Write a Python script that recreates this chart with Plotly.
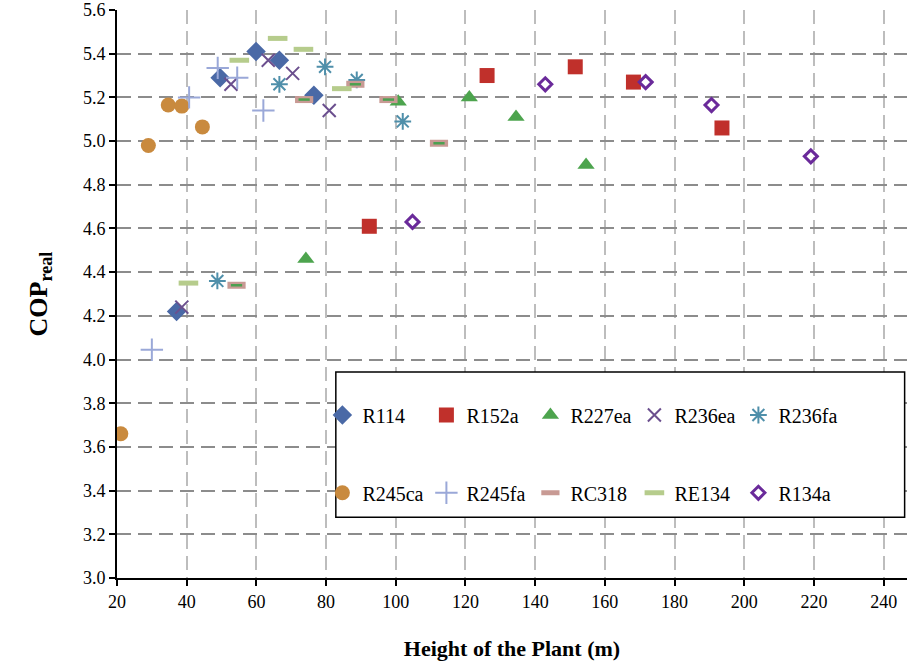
import plotly.graph_objects as go

# ---- data ----
names = ["R114", "R152a", "R227ea", "R236ea", "R236fa",
         "R245ca", "R245fa", "RC318", "RE134", "R134a"]

r114_x = [37.1, 49.6, 59.9, 66.6, 76.5]
r114_y = [4.22, 5.29, 5.41, 5.37, 5.21]
r152a_x = [92.4, 126.2, 151.5, 168.2, 193.6]
r152a_y = [4.61, 5.30, 5.34, 5.27, 5.06]
r227ea_x = [74.2, 100.7, 121.1, 134.5, 154.6]
r227ea_y = [4.46, 5.18, 5.20, 5.11, 4.89]
r236ea_x = [38.6, 52.7, 63.4, 70.4, 80.9]
r236ea_y = [4.24, 5.26, 5.37, 5.31, 5.14]
r236fa_x = [48.8, 66.6, 79.7, 88.8, 102.0]
r236fa_y = [4.36, 5.26, 5.34, 5.28, 5.09]
r245ca_x = [21.1, 29.0, 34.7, 38.6, 44.5]
r245ca_y = [3.66, 4.98, 5.165, 5.16, 5.065]
r245fa_x = [30.0, 40.7, 48.9, 54.5, 62.0]
r245fa_y = [4.045, 5.20, 5.335, 5.29, 5.14]
rc318_x = [54.3, 73.7, 88.4, 97.9, 112.4]
rc318_y = [4.34, 5.19, 5.26, 5.19, 4.99]
re134_x = [40.5, 55.1, 66.1, 73.5, 84.5]
re134_y = [4.35, 5.37, 5.47, 5.42, 5.24]
r134a_x = [104.8, 142.9, 171.7, 190.6, 219.1]
r134a_y = [4.63, 5.26, 5.27, 5.165, 4.93]

x_ticks = [20, 40, 60, 80, 100, 120, 140, 160, 180, 200, 220, 240]
y_ticks = [3.0, 3.2, 3.4, 3.6, 3.8, 4.0, 4.2, 4.4, 4.6, 4.8, 5.0, 5.2, 5.4, 5.6]

FONT = "Liberation Serif"

fig = go.Figure()

def add(name, xs, ys, marker, legend, showlegend=True, group=None):
    fig.add_trace(go.Scatter(
        x=xs, y=ys, mode="markers", name=name, marker=marker,
        legend=legend, showlegend=showlegend,
        legendgroup=group or name, hoverinfo="x+y+name"))

add("R114", r114_x, r114_y,
    dict(symbol="diamond", size=15, color="#4A69A6"), "legend")
add("R152a", r152a_x, r152a_y,
    dict(symbol="square", size=15, color="#C0302B"), "legend")
add("R227ea", r227ea_x, r227ea_y,
    dict(symbol="triangle-up", size=15, color="#4DA44E"), "legend")
add("R236ea", r236ea_x, r236ea_y,
    dict(symbol="x-thin-open", size=13, color="#6B4F8E",
         line=dict(width=2, color="#6B4F8E")), "legend")
add("R236fa", r236fa_x, r236fa_y,
    dict(symbol="asterisk-open", size=14, color="#4F8FAA",
         line=dict(width=2, color="#4F8FAA")), "legend")
add("R245ca", r245ca_x, r245ca_y,
    dict(symbol="circle", size=15, color="#C98A3E"), "legend2")
add("R245fa", r245fa_x, r245fa_y,
    dict(symbol="cross-thin-open", size=16, color="#9AA8D8",
         line=dict(width=2, color="#9AA8D8")), "legend2")
add("RC318", rc318_x, rc318_y,
    dict(symbol="line-ew-open", size=13, color="#C89A94",
         line=dict(width=7, color="#C89A94")), "legend2")
add("RC318 inner", rc318_x, rc318_y,
    dict(symbol="line-ew-open", size=8, color="#4CA050",
         line=dict(width=2.5, color="#4CA050")), "legend2",
    showlegend=False, group="RC318")
add("RE134", re134_x, re134_y,
    dict(symbol="line-ew-open", size=14, color="#B6CC8C",
         line=dict(width=5, color="#B6CC8C")), "legend2")
add("R134a", r134a_x, r134a_y,
    dict(symbol="diamond-open", size=10, color="#6A2A9A",
         line=dict(width=3, color="#6A2A9A")), "legend2")

legend_common = dict(
    orientation="h", xanchor="left", yanchor="middle",
    bgcolor="rgba(0,0,0,0)", borderwidth=0,
    font=dict(family=FONT, size=20, color="black"),
    entrywidthmode="pixels", entrywidth=59, itemwidth=30,
    tracegroupgap=0,
)

fig.update_layout(
    width=907, height=665,
    margin=dict(l=117, r=0, t=10, b=87),
    paper_bgcolor="white", plot_bgcolor="white",
    font=dict(family=FONT, size=18, color="black"),
    xaxis=dict(
        range=[20, 246.7], tickvals=x_ticks,
        showline=True, linecolor="black", linewidth=2,
        ticks="outside", ticklen=6, tickcolor="black", tickwidth=1.5,
        showgrid=True, gridcolor="#BDBDBD", gridwidth=1.5, griddash="14px,7px",
        zeroline=False,
        tickfont=dict(family=FONT, size=18, color="black"),
        title=dict(text="<b>Height of the Plant (m)</b>",
                   font=dict(family=FONT, size=22, color="black"), standoff=30),
    ),
    yaxis=dict(
        range=[3.0, 5.6], tickvals=y_ticks, tickformat=".1f",
        showline=True, linecolor="black", linewidth=2,
        ticks="outside", ticklen=6, tickcolor="black", tickwidth=1.5,
        showgrid=True, gridcolor="#8C8C8C", gridwidth=1.5, griddash="14px,7px",
        zeroline=False,
        tickfont=dict(family=FONT, size=18, color="black"),
        title=dict(text="<b>COP<sub>real</sub></b>",
                   font=dict(family=FONT, size=26, color="black"), standoff=28),
    ),
    legend=dict(x=0.26, y=0.287, **legend_common),
    legend2=dict(x=0.26, y=0.15, **legend_common),
    shapes=[dict(type="rect", xref="paper", yref="paper",
                 x0=0.277, x1=0.997, y0=0.107, y1=0.3627,
                 line=dict(color="black", width=1.5), fillcolor="white",
                 layer="above")],
    showlegend=True,
)

fig.write_html("out.html")
